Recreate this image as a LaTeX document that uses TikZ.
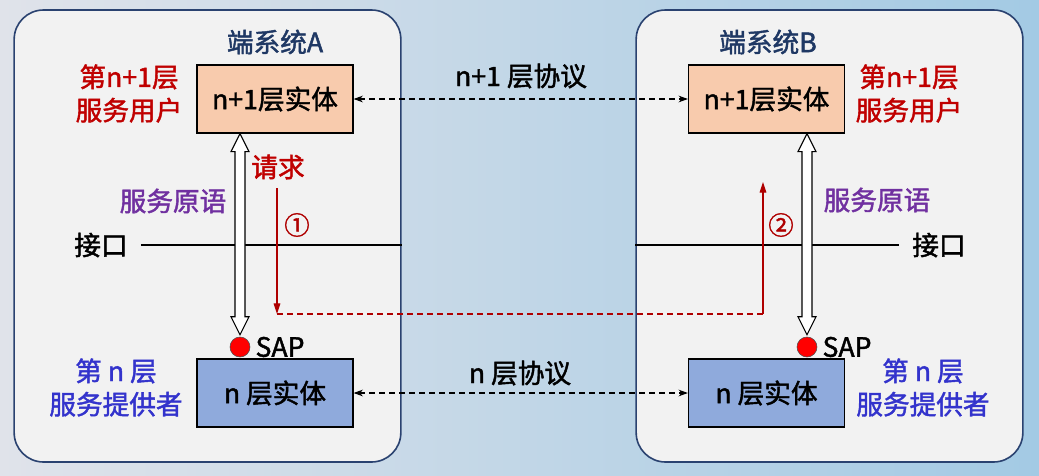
\documentclass[tikz,border=0pt]{standalone}
\usepackage{fontspec}
\setmainfont{Noto Sans CJK SC}[RawFeature={embolden=1.6}]
\usetikzlibrary{arrows.meta,calc,positioning}

\definecolor{bgL}{RGB}{224,227,234}
\definecolor{bgR}{RGB}{163,202,228}
\definecolor{frameFill}{RGB}{242,242,242}
\definecolor{frameLine}{RGB}{42,66,112}
\definecolor{titleBlue}{RGB}{31,56,100}
\definecolor{userRed}{RGB}{192,0,0}
\definecolor{primPurple}{RGB}{112,48,160}
\definecolor{provBlue}{RGB}{51,51,204}
\definecolor{peach}{RGB}{248,203,173}
\definecolor{entBlue}{RGB}{143,170,220}
\definecolor{reqRed}{RGB}{175,0,0}

\tikzset{
  txt/.style={font=\fontsize{20}{25}\selectfont, inner sep=0.75pt, align=center},
  frame/.style={draw=frameLine, line width=1.2pt, fill=frameFill, rounded corners=22pt,
    minimum width=290pt, minimum height=339pt},
  entity/.style={txt, draw=black, line width=0.9pt, minimum width=117pt, minimum height=51pt},
  sap/.style={circle, draw=black!70, fill=red, inner sep=0pt, minimum size=15pt},
  hollow/.style={draw=black, fill=white, line width=0.8pt},
  peer/.style={dash pattern={on 4.5pt off 3pt}, line width=0.8pt, {Stealth[length=7pt,width=5pt]}-{Stealth[length=7pt,width=5pt]}},
  reqline/.style={draw=reqRed, line width=0.8pt},
}

\begin{document}
\begin{tikzpicture}[x=0.75pt,y=0.75pt,yscale=-1,xscale=1]
% background
\fill[left color=bgL, right color=bgR] (0,0) rectangle (1039,475);

% end systems
\node[frame] (frameA) at (207.5,236) {};
\node[frame] (frameB) at (829.5,236) {};
\node[txt, text=titleBlue] (titleA) at (275,42) {端系统A};
\node[txt, text=titleBlue] (titleB) at (768,42) {端系统B};

% entities
\node[entity, fill=peach] (upA) at (275,99) {n+1层实体};
\node[entity, fill=peach] (upB) at (766.5,99) {n+1层实体};
\node[entity, fill=entBlue] (downA) at (275,393) {n 层实体};
\node[entity, fill=entBlue] (downB) at (766.5,393) {n 层实体};

% SAP
\node[sap] (sapA) at (240,347) {};
\node[sap] (sapB) at (807,347) {};
\node[txt, right=3pt of sapA] (sapAl) {SAP};
\node[txt, right=3pt of sapB] (sapBl) {SAP};

% side labels
\node[txt, text=userRed] (userA) at (129,93.5) {第n+1层\\服务用户};
\node[txt, text=userRed] (userB) at (909,93.5) {第n+1层\\服务用户};
\node[txt, text=provBlue] (provA) at (116,387.5) {第 n 层\\服务提供者};
\node[txt, text=provBlue] (provB) at (923,387.5) {第 n 层\\服务提供者};
\node[txt, text=primPurple] (primA) at (173,201) {服务原语};
\node[txt, text=primPurple] (primB) at (877,200) {服务原语};
\node[txt, text=userRed] (req) at (278,167) {请求};

% interface
\node[txt] (ifA) at (101,245) {接口};
\node[txt] (ifB) at (939,245) {接口};
\draw[line width=0.9pt] ($(ifA.east)+(12,0)$) -- (frameA.east |- ifA);
\draw[line width=0.9pt] (frameB.west |- ifB) -- ($(ifB.west)+(-12,0)$);

% protocols
\node[txt] (protoUp) at (521,76) {n+1 层协议};
\node[txt] (protoDown) at (520,373) {n 层协议};
\draw[peer] (upA) -- (upB);
\draw[peer] (downA) -- (downB);

% service primitives
\coordinate (tA) at (sapA |- upA.south);
\coordinate (bA) at ($(sapA.north)+(0,-2)$);
\draw[hollow] (tA) -- ++(9,18) -- ++(-4,0) -- ($(bA)+(5,-18)$) -- ++(4,0) -- (bA)
  -- ++(-9,-18) -- ++(4,0) -- ($(tA)+(-5,18)$) -- ++(-4,0) -- cycle;
\coordinate (tB) at (sapB |- upB.south);
\coordinate (bB) at ($(sapB.north)+(0,-2)$);
\draw[hollow] (tB) -- ++(9,18) -- ++(-4,0) -- ($(bB)+(5,-18)$) -- ++(4,0) -- (bB)
  -- ++(-9,-18) -- ++(4,0) -- ($(tB)+(-5,18)$) -- ++(-4,0) -- cycle;

% request path
\coordinate (r1) at (277,188);
\coordinate (r2) at (277,314);
\coordinate (r3) at (763,314);
\coordinate (r4) at (763,182);
\draw[reqline, -{Triangle[length=8pt,width=5pt]}] (r1) -- (r2);
\draw[reqline, dash pattern={on 4.5pt off 3pt}] (r2) -- (r3);
\draw[reqline, -{Triangle[length=8pt,width=5pt]}] (r3) -- (r4);
\node[txt, text=reqRed, font=\fontsize{19}{22}\selectfont] (one) at (297,225) {①};
\node[txt, text=reqRed, font=\fontsize{19}{22}\selectfont] (two) at (781,225) {②};

\end{tikzpicture}
\end{document}
